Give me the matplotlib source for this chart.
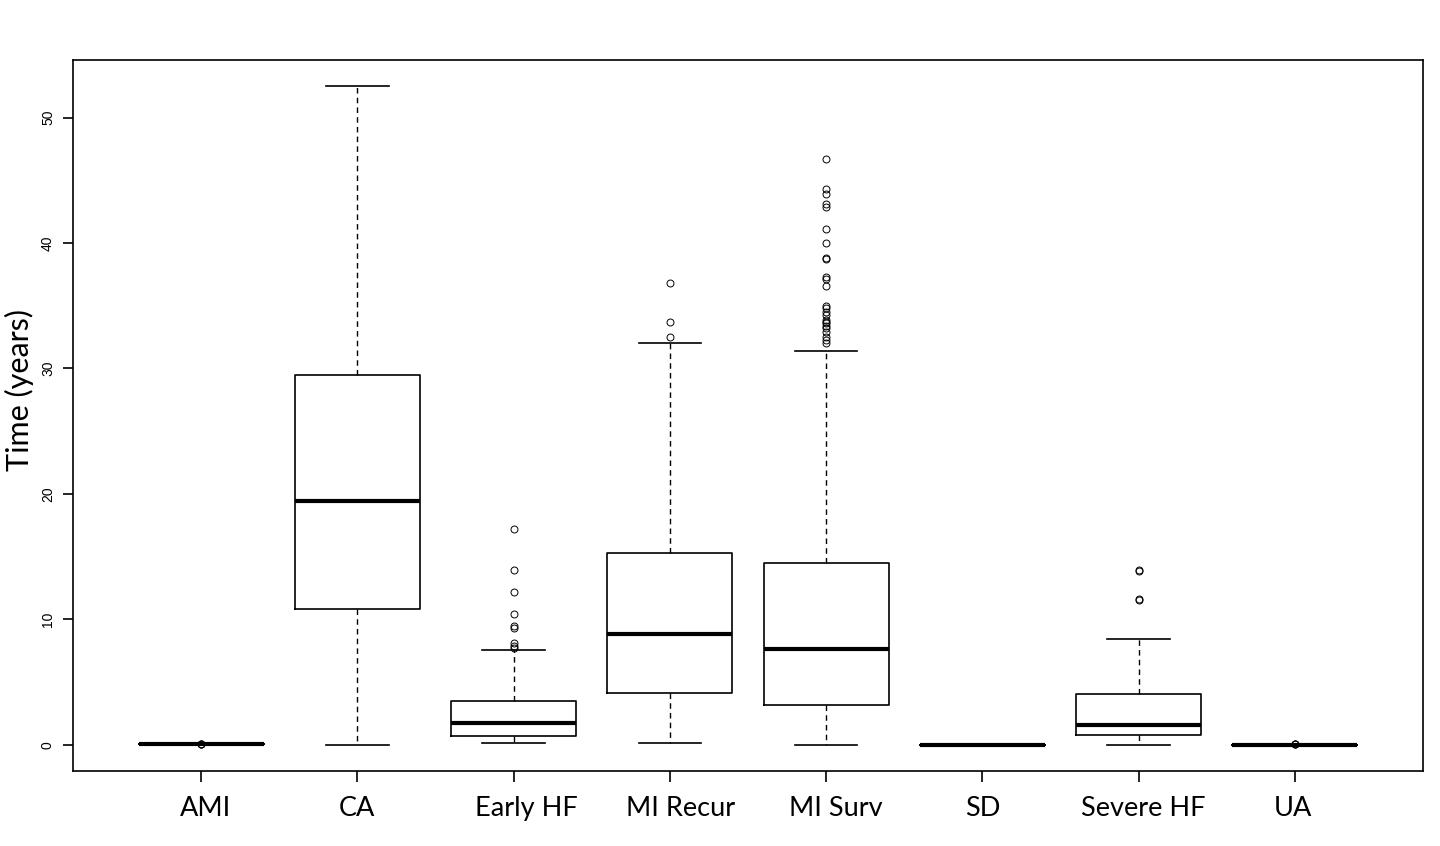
import matplotlib
matplotlib.use("Agg")
import matplotlib.pyplot as plt

# groups and five-number summaries
groups = ["AMI", "CA", "Early HF", "MI Recur", "MI Surv", "SD", "Severe HF", "UA"]
whislo = [0.0, 0.0, 0.1, 0.1, 0.0, 0.0, 0.0, 0.0]
q1 = [0.02, 10.8, 0.7, 4.1, 3.15, 0.0, 0.8, 0.0]
med = [0.05, 19.45, 1.7, 8.8, 7.6, 0.0, 1.6, 0.0]
q3 = [0.08, 29.5, 3.5, 15.25, 14.5, 0.0, 4.05, 0.0]
whishi = [0.1, 52.5, 7.55, 32.0, 31.4, 0.0, 8.4, 0.05]
fliers = [
    [0.05, 0.05, 0.05],
    [],
    [17.2, 13.9, 12.2, 10.4, 9.5, 9.3, 8.1, 7.9, 7.7],
    [36.8, 33.7, 32.5],
    [46.7, 44.3, 43.9, 43.1, 42.9, 41.1, 40.0, 38.8, 38.7, 37.3, 37.1, 36.6,
     35.0, 34.8, 34.5, 34.3, 33.9, 33.7, 33.6, 33.4, 33.2, 32.9, 32.5, 32.3, 32.0],
    [],
    [13.9, 13.85, 11.6, 11.55],
    [0.05, 0.05, 0.05],
]
# small horizontal nudges of the category labels, as in the picture
label_nudge = [0.03, 0.0, 0.08, 0.07, 0.06, 0.0, 0.03, -0.01]

stats = []
for i in range(len(groups)):
    stats.append(dict(whislo=whislo[i], q1=q1[i], med=med[i], q3=q3[i],
                      whishi=whishi[i], fliers=fliers[i]))

fig = plt.figure(figsize=(14.4, 8.46), dpi=100)
ax = fig.add_axes([73 / 1440, 75 / 846, 1350 / 1440, 711 / 846])

pos = list(range(1, len(groups) + 1))
ax.bxp(stats, positions=pos, widths=0.8,
       boxprops=dict(color="black", linewidth=1.2),
       medianprops=dict(color="black", linewidth=3.0, solid_capstyle="butt"),
       whiskerprops=dict(color="black", linewidth=1.0, linestyle=(0, (4, 3))),
       capprops=dict(color="black", linewidth=1.2),
       capwidths=0.4,
       flierprops=dict(marker="o", markersize=5, markerfacecolor="none",
                       markeredgecolor="black", markeredgewidth=0.7))

ax.set_xlim(0.18, 8.82)
ax.set_ylim(-2.1, 54.6)

ax.set_xticks(pos)
ax.set_xticklabels([""] * len(groups))
ax.tick_params(axis="x", length=8, width=1.2, direction="out")
for p, g, d in zip(pos, groups, label_nudge):
    ax.text(p + d, -5.1, g, ha="center", va="center", fontsize=19.5,
            family="Lato", transform=ax.transData, clip_on=False)

ax.set_yticks([0, 10, 20, 30, 40, 50])
ax.tick_params(axis="y", length=7, width=1.2, direction="out", pad=6)
for lab in ax.get_yticklabels():
    lab.set_rotation(90)
    lab.set_va("center")
    lab.set_family("Liberation Sans")
    lab.set_fontsize(10)

ax.set_ylabel("Time (years)", fontsize=22, family="Lato")
ax.yaxis.set_label_coords(-0.029, 0.536)

for s in ax.spines.values():
    s.set_linewidth(1.2)

fig.savefig("out.png", dpi=100)
